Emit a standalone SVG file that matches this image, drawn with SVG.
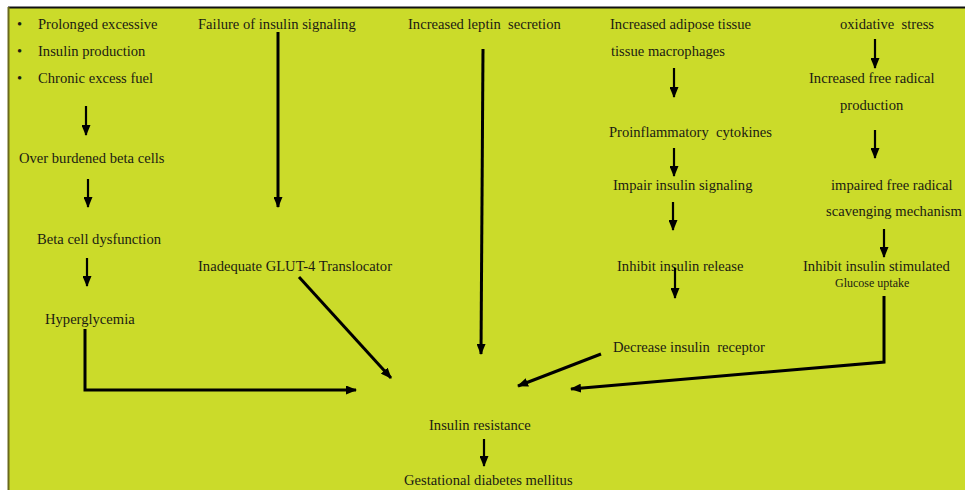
<svg xmlns="http://www.w3.org/2000/svg" width="965" height="490" viewBox="0 0 965 490">
<defs>
<style>
text{font-family:"Liberation Serif","Times New Roman",serif;font-size:14.6px;fill:#1b1b12}
.sm{font-size:12px}
.pre{white-space:pre}
.a{stroke:#000;stroke-width:2.2;fill:none;marker-end:url(#ah)}
.b{stroke:#000;stroke-width:3;fill:none;marker-end:url(#ah)}
</style>
<marker id="ah" markerUnits="userSpaceOnUse" markerWidth="11" markerHeight="9" refX="10" refY="4.5" orient="auto">
<path d="M0,0 L11,4.5 L0,9 z" fill="#000"/>
</marker>
</defs>
<rect x="0" y="0" width="965" height="490" fill="#fff"/>
<rect x="8" y="7" width="957" height="483" fill="#CBDB2A"/>
<line x1="8" y1="7.5" x2="965" y2="7.5" stroke="#111" stroke-width="2"/>
<line x1="8.5" y1="7" x2="8.5" y2="490" stroke="#6a6a1c" stroke-width="2"/>

<g id="n-bullets">
<text x="17" y="29">•</text><text x="38" y="29">Prolonged excessive</text>
<text x="17" y="56">•</text><text x="38" y="56">Insulin production</text>
<text x="17" y="83">•</text><text x="38" y="83">Chronic excess fuel</text>
</g>
<g id="n-overburdened"><text x="19" y="163">Over burdened beta cells</text></g>
<g id="n-betadys"><text x="37" y="244">Beta cell dysfunction</text></g>
<g id="n-hyper"><text x="45" y="324">Hyperglycemia</text></g>
<g id="n-failure"><text x="198" y="29">Failure of insulin signaling</text></g>
<g id="n-glut4"><text x="198" y="271">Inadequate GLUT-4 Translocator</text></g>
<g id="n-leptin"><text class="pre" x="408" y="29">Increased leptin  secretion</text></g>
<g id="n-adipose"><text x="610" y="29">Increased adipose tissue</text><text x="611" y="56">tissue macrophages</text></g>
<g id="n-cytokines"><text class="pre" x="609" y="137">Proinflammatory  cytokines</text></g>
<g id="n-impair"><text x="613" y="190">Impair insulin signaling</text></g>
<g id="n-inhibitrel"><text x="617" y="271">Inhibit insulin release</text></g>
<g id="n-decrease"><text class="pre" x="613" y="352">Decrease insulin  receptor</text></g>
<g id="n-oxidative"><text class="pre" x="840" y="29">oxidative  stress</text></g>
<g id="n-freerad"><text x="809" y="83">Increased free radical</text><text x="840" y="110">production</text></g>
<g id="n-scav"><text x="831" y="190">impaired free radical</text><text x="826" y="216">scavenging mechanism</text></g>
<g id="n-inhibitstim"><text x="803" y="271">Inhibit insulin stimulated</text><text class="sm" x="835" y="287">Glucose uptake</text></g>
<g id="n-resistance"><text x="429" y="430">Insulin resistance</text></g>
<g id="n-gdm"><text x="404" y="485">Gestational diabetes mellitus</text></g>

<g id="connectors">
<line class="a" x1="86" y1="106" x2="86" y2="135"/>
<line class="a" x1="88" y1="179" x2="88" y2="207"/>
<line class="a" x1="87" y1="258" x2="87" y2="286"/>
<polyline class="b" points="85,329 85,390 356,390"/>
<line class="b" x1="278" y1="32" x2="278" y2="207"/>
<line class="b" x1="483" y1="49" x2="481" y2="354"/>
<line class="b" x1="299" y1="277" x2="391" y2="378"/>
<line class="a" x1="674" y1="68" x2="674" y2="97"/>
<line class="a" x1="674" y1="148" x2="674" y2="176"/>
<line class="a" x1="673" y1="202" x2="673" y2="230"/>
<line class="a" x1="675" y1="268" x2="675" y2="298"/>
<line class="b" x1="601" y1="354" x2="518" y2="386"/>
<line class="a" x1="875" y1="39" x2="875" y2="68"/>
<line class="a" x1="875" y1="130" x2="875" y2="158"/>
<line class="a" x1="884" y1="229" x2="884" y2="257"/>
<polyline class="b" points="884,296 884,362 571,389"/>
<line class="a" x1="484" y1="439" x2="484" y2="466"/>
</g>
</svg>
